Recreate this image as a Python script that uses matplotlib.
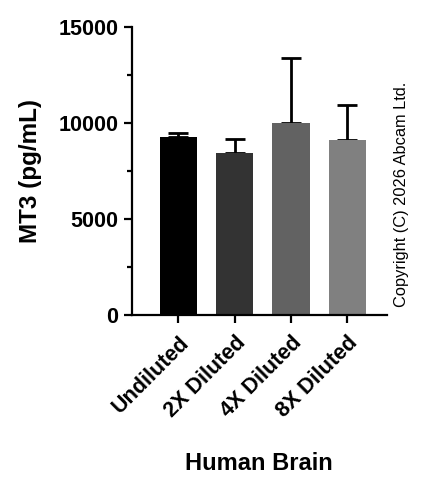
import matplotlib.pyplot as plt
import numpy as np

plt.rcParams.update({'font.family': ['Liberation Sans', 'DejaVu Sans'], 'font.weight': 'bold'})

# data
categories = ['Undiluted', '2X Diluted', '4X Diluted', '8X Diluted']
means = [9260, 8450, 10010, 9090]
errors = [230, 730, 3370, 1840]
colors = ['#000000', '#333333', '#626262', '#808080']

fig = plt.figure(figsize=(4.35, 4.83), dpi=100)
ax = fig.add_axes([0.303, 0.347, 0.586, 0.598])

x = np.arange(len(categories))
ax.bar(x, means, width=0.667, color=colors, zorder=2)
ax.errorbar(x, means, yerr=[np.zeros(len(errors)), errors], fmt='none',
            ecolor='black', elinewidth=2.0, capsize=7, capthick=2.0, zorder=1)

ax.set_xlim(-0.828, 3.70)
ax.set_ylim(0, 15000)
ax.set_yticks([0, 5000, 10000, 15000])
ax.set_yticks([2500, 7500, 12500], minor=True)
ax.set_xticks(x)
ax.set_xticklabels(categories, rotation=45, ha='right', rotation_mode='anchor')

for side in ['top', 'right']:
    ax.spines[side].set_visible(False)
for side in ['left', 'bottom']:
    ax.spines[side].set_linewidth(1.6)

ax.tick_params(axis='both', which='major', length=6, width=1.6, labelsize=15.5)
ax.tick_params(axis='y', which='minor', length=3.5, width=1.6)
ax.tick_params(axis='x', pad=6)

ax.set_ylabel('MT3 (pg/mL)', fontsize=17.5, fontweight='bold', labelpad=12)
ax.set_xlabel('Human Brain', fontsize=17, fontweight='bold', labelpad=22)

fig.text(0.924, 0.364, 'Copyright (C) 2026 Abcam Ltd.', rotation=90, fontsize=11.8,
         fontweight='normal', ha='center', va='bottom')

fig.savefig('out.png', dpi=100)
